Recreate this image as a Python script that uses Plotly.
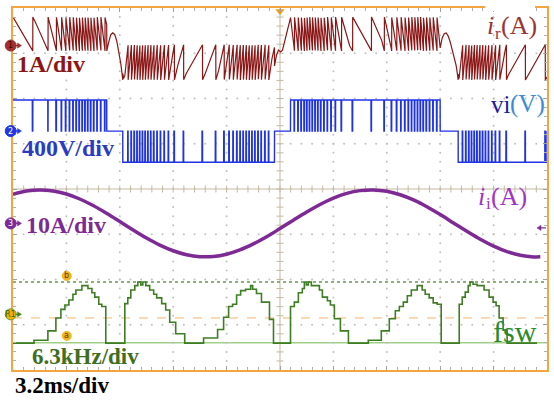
import numpy as np
import plotly.graph_objects as go

# ---------------- scope settings ----------------
MS_PER_DIV = 3.2
T_END = MS_PER_DIV * 10          # 10 horizontal divisions
Y_HALF = 4                       # 8 vertical divisions

# vertical scale (units/div) and ground marker position (div from centre)
IR_SCALE, IR_POS = 1.0, 3.17     # resonant current, A/div
VI_SCALE, VI_POS = 400.0, 1.28   # inverter voltage, V/div
II_SCALE, II_POS = 10.0, -0.76   # grid current, A/div
FSW_SCALE, FSW_POS = 6.3, -2.85  # switching frequency, kHz/div
FSW_REF = 12.6                   # kHz at the R1 marker

# cursor levels (div)
CURSOR_B = -2.055
CURSOR_A = -3.40

# ---------------- data ----------------
# grid current i_i (A), one sample every 0.8 ms
II_T = [0.8 * k for k in range(40)] + [31.6]
II_A = [6.45, 7.16, 7.40, 7.17, 6.49, 5.39, 3.95, 2.25, 0.41, -1.45,
        -3.23, -4.80, -6.05, -6.93, -7.36, -7.32, -6.81, -5.87, -4.54, -2.96,
        -1.15, 0.71, 2.53, 4.19, 5.60, 6.63, 7.24, 7.40, 7.09, 6.33,
        5.18, 3.67, 1.94, 0.09, -1.76, -3.51, -5.03, -6.23, -7.05, -7.40,
        -7.38]

# switching frequency staircase: step start time (ms) and value (kHz)
FSW_T = [0.00, 1.26, 2.09, 2.57, 2.87, 3.11, 3.35, 3.59, 3.77, 4.13,
         4.49, 4.73, 4.90, 5.14, 5.32, 5.56, 6.70, 6.88, 7.06, 7.30,
         7.48, 7.66, 7.78, 7.96, 8.19, 8.43, 8.61, 8.91, 9.15, 9.39,
         9.75, 10.29, 11.42, 12.26, 12.62, 12.92, 13.16, 13.40, 13.64, 13.94,
         14.24, 14.36, 14.59, 14.89, 15.37, 15.61, 16.63, 16.86, 17.10, 17.34,
         17.46, 17.58, 17.70, 17.88, 18.36, 18.54, 18.84, 19.02, 19.26, 19.62,
         20.10, 21.29, 22.07, 22.55, 22.91, 23.15, 23.39, 23.63, 23.87, 24.22,
         24.52, 24.70, 24.94, 25.18, 25.42, 25.66, 26.74, 26.92, 27.10, 27.28,
         27.39, 27.57, 27.81, 28.23, 28.53, 28.77, 28.95, 29.13, 29.37, 29.61,
         31.40]
FSW_KHZ = [9.1, 9.5, 10.8, 12.6, 13.8, 14.4, 15.1, 15.9, 16.5, 17.1,
           16.7, 16.1, 15.5, 14.5, 14.2, 9.1, 14.6, 15.4, 16.5, 17.1,
           17.6, 17.2, 17.6, 17.1, 16.5, 15.9, 15.4, 14.6, 13.7, 12.0,
           10.4, 9.1, 9.8, 11.0, 12.7, 14.2, 14.5, 15.8, 16.4, 16.6,
           17.1, 16.6, 16.0, 14.8, 12.4, 9.1, 14.2, 14.8, 16.1, 16.7,
           17.6, 17.2, 17.6, 17.1, 16.5, 15.5, 15.0, 14.4, 12.5, 10.8,
           9.1, 9.5, 10.8, 12.5, 13.6, 14.2, 14.8, 15.7, 16.5, 17.1,
           16.5, 15.9, 15.4, 14.7, 14.5, 9.1, 14.5, 15.5, 16.2, 17.1,
           17.6, 17.3, 17.1, 16.5, 15.5, 14.8, 14.3, 12.6, 10.9, 9.1,
           9.1]

# half cycles with active switching: start (ms), end (ms), polarity
HALF_CYCLES = [(0.00, 5.62, +1), (6.58, 15.67, -1),
               (16.63, 25.60, +1), (26.68, 32.00, -1)]

# resonant current ripple band (A) for each polarity
POS_TOP, POS_BOT = 0.63, -0.12
NEG_TOP, NEG_BOT = 0.02, -0.76

# i_r around the current zero crossings (no switching): time (ms), A
HUMP_T = [5.62, 5.74, 5.86, 5.98, 6.10, 6.22, 6.34, 6.46, 6.58,
          15.67, 15.79, 15.91, 16.03, 16.15, 16.27, 16.39, 16.51, 16.63,
          25.60, 25.72, 25.84, 25.96, 26.08, 26.20, 26.32, 26.44, 26.56, 26.68]
HUMP_A = [-0.12, 0.08, 0.24, 0.28, 0.24, 0.10, -0.14, -0.40, -0.62,
          -0.45, -0.21, -0.10, -0.14, -0.10, 0.08, 0.30, 0.48, 0.59,
          -0.05, 0.17, 0.26, 0.28, 0.21, 0.08, -0.10, -0.27, -0.45, -0.63]

VDC = 275.0            # inverter output level (V)
RATE_MIN = 0.84        # displayed ripple periods per ms at the lowest fsw
RATE_GAIN = 0.64       # extra periods per ms for each kHz of fsw
PULSE_MS = 0.03        # width of the zero-voltage notches
DT = 0.004

IR_COLOR = "#8B1616"
VI_COLOR = "#1F33E6"
II_COLOR = "#7E2A95"
FSW_COLOR = "#3E7D22"
FRAME = "#F2A541"


def step_value(t, t_steps, vals):
    idx = np.searchsorted(np.asarray(t_steps), t, side="right") - 1
    return np.asarray(vals)[np.clip(idx, 0, len(vals) - 1)]


# ---------------- ripple waveforms from the switching frequency ----------------
t = np.arange(0.0, T_END + 1e-9, DT)
f_t = step_value(t, FSW_T, FSW_KHZ)
rate = RATE_MIN + RATE_GAIN * (f_t - min(FSW_KHZ))
ir = np.full_like(t, np.nan)
vi = np.zeros_like(t)
for t0, t1, sign in HALF_CYCLES:
    m = (t >= t0) & (t < t1)
    ph = np.cumsum(rate[m]) * DT
    frac = ph % 1.0
    notch = (1.0 - frac) / rate[m] < PULSE_MS
    if sign > 0:
        ir[m] = POS_TOP - frac * (POS_TOP - POS_BOT)
        vi[m] = np.where(notch, 0.0, VDC)
    else:
        ir[m] = NEG_BOT + frac * (NEG_TOP - NEG_BOT)
        vi[m] = np.where(notch, 0.0, -VDC)

keep = ~np.isnan(ir)
ir_t = np.concatenate([t[keep], HUMP_T])
ir_v = np.concatenate([ir[keep], HUMP_A])
order = np.argsort(ir_t, kind="stable")
ir_t, ir_v = ir_t[order], ir_v[order]

fig = go.Figure()

# ---------------- graticule ----------------
gx, gy = [], []
for k in range(1, 10):
    if k == 5:
        continue
    for j in range(1, 40):
        gx.append(k * MS_PER_DIV)
        gy.append(-Y_HALF + j * 0.2)
for r in range(-3, 4):
    if r == 0:
        continue
    for j in range(1, 50):
        gx.append(j * MS_PER_DIV / 5)
        gy.append(r)
fig.add_trace(go.Scatter(x=gx, y=gy, mode="markers", hoverinfo="skip",
                         marker=dict(size=2, color="#c0c0c0")))

AXIS_C = "#c4b9a0"
fig.add_shape(type="line", x0=0, x1=T_END, y0=0, y1=0, layer="below",
              line=dict(color=AXIS_C, width=1))
fig.add_shape(type="line", x0=T_END / 2, x1=T_END / 2, y0=-Y_HALF, y1=Y_HALF,
              layer="below", line=dict(color=AXIS_C, width=1))
tx = [j * MS_PER_DIV / 5 for j in range(1, 50)]
fig.add_trace(go.Scatter(x=tx, y=[0] * len(tx), mode="markers", hoverinfo="skip",
                         marker=dict(symbol="line-ns", size=5,
                                     line=dict(color=AXIS_C, width=1))))
ty = [-Y_HALF + j * 0.2 for j in range(1, 40)]
fig.add_trace(go.Scatter(x=[T_END / 2] * len(ty), y=ty, mode="markers",
                         hoverinfo="skip",
                         marker=dict(symbol="line-ew", size=5,
                                     line=dict(color=AXIS_C, width=1))))

# cursors and R1 reference
fig.add_shape(type="line", x0=0, x1=T_END, y0=CURSOR_B, y1=CURSOR_B, layer="below",
              line=dict(color="#8db07a", width=2, dash="dot"))
fig.add_shape(type="line", x0=0, x1=T_END, y0=CURSOR_A, y1=CURSOR_A, layer="below",
              line=dict(color="#9fd08a", width=1.5))
fig.add_shape(type="line", x0=0, x1=T_END, y0=FSW_POS, y1=FSW_POS, layer="below",
              line=dict(color="#f7b36a", width=1, dash="dash"))

# ---------------- traces ----------------
fsw_y = [FSW_POS + (f - FSW_REF) / FSW_SCALE for f in FSW_KHZ]
fig.add_trace(go.Scatter(x=FSW_T, y=fsw_y, mode="lines", line_shape="hv",
                         line=dict(color=FSW_COLOR, width=1.6)))

ii_y = [II_POS + a / II_SCALE for a in II_A]
fig.add_trace(go.Scatter(x=II_T, y=ii_y, mode="lines", line_shape="spline",
                         line=dict(color=II_COLOR, width=3.5)))

fig.add_trace(go.Scatter(x=t, y=VI_POS + vi / VI_SCALE, mode="lines",
                         line=dict(color=VI_COLOR, width=1.4)))

fig.add_trace(go.Scatter(x=ir_t, y=IR_POS + ir_v / IR_SCALE, mode="lines",
                         line=dict(color=IR_COLOR, width=1.2)))

# trigger position
fig.add_trace(go.Scatter(x=[T_END / 2], y=[Y_HALF - 0.07], mode="markers",
                         cliponaxis=False, hoverinfo="skip",
                         marker=dict(symbol="triangle-down", size=8, color="#f29a1d")))

# ---------------- text and margin markers (pixel placement) ----------------
SERIF = "Liberation Serif"
W, H, L, B = 536, 362, 13, 370


def px(x, y):
    return (x - L) / W, (B - y) / H


def div_to_py(d):
    return 189 - d * (H / 8)


def arrow(x_tail, x_head, y, color):
    """Small horizontal arrow drawn in paper coordinates."""
    xa, ya = px(x_tail, y)
    xb, _ = px(x_head - 3 * np.sign(x_head - x_tail), y)
    fig.add_shape(type="line", xref="paper", yref="paper", x0=xa, y0=ya,
                  x1=xb, y1=ya, line=dict(color=color, width=1.2))
    hx, hy = px(x_head, y)
    bx, _ = px(x_head - 4 * np.sign(x_head - x_tail), y)
    _, up = px(0, y - 2.6)
    _, dn = px(0, y + 2.6)
    fig.add_shape(type="path", xref="paper", yref="paper",
                  path=f"M {hx},{hy} L {bx},{up} L {bx},{dn} Z",
                  fillcolor=color, line=dict(color=color, width=0.5))


def badge(cx_px, cy_px, r, txt, fill, edge, tc, size):
    """Round marker with a short tag drawn on it."""
    x0, y0 = px(cx_px - r, cy_px + r)
    x1, y1 = px(cx_px + r, cy_px - r)
    fig.add_shape(type="circle", xref="paper", yref="paper", x0=x0, y0=y0,
                  x1=x1, y1=y1, fillcolor=fill, line=dict(color=edge, width=1))
    cx, cy = px(cx_px, cy_px)
    fig.add_annotation(x=cx, y=cy, xref="paper", yref="paper", text=txt,
                       showarrow=False, xanchor="center", yanchor="middle",
                       font=dict(size=size, color=tc, family="DejaVu Sans"))


# channel ground markers in the left margin
marks = [(IR_POS, "1", "#a03030", "#a03030", "#3a0000", "#9b2a2a"),
         (VI_POS, "2", "#2138e0", "#2138e0", "white", "#2138e0"),
         (II_POS, "3", "#7e2a95", "#7e2a95", "white", "#7e2a95"),
         (FSW_POS + 0.08, "R1", "#f2b400", "#6a9a30", "#2f6b12", "#3e8a22")]
for d, txt, fill, edge, tc, arrow_c in marks:
    cy = div_to_py(d)
    badge(10.7, cy, 5.5, txt, fill, edge, tc, 8)
    arrow(15.5, 21.5, cy, arrow_c)

# cursor tags
badge(67, div_to_py(CURSOR_B) - 6, 4.5, "b", "#f3b41c", "#f3b41c", "#5a3a00", 8)
badge(67, div_to_py(CURSOR_A) - 7, 4.5, "a", "#f3b41c", "#f3b41c", "#5a3a00", 8)

# ch3 offset indicator on the right edge
arrow(548, 539, div_to_py(II_POS) + 4.5, II_COLOR)

# white patch behind the i_r name, breaking the top frame
gx0, gy0 = px(487, 11)
gx1, gy1 = px(537, 4)
fig.add_shape(type="rect", xref="paper", yref="paper", x0=gx0, y0=gy0,
              x1=gx1, y1=gy1, fillcolor="white", line=dict(width=0),
              layer="above")


def label(x, y, text, color, size, anchor="left"):
    xx, yy = px(x, y)
    fig.add_annotation(x=xx, y=yy, xref="paper", yref="paper", text=text,
                       showarrow=False, xanchor=anchor, yanchor="middle",
                       font=dict(family=SERIF, size=size, color=color))


label(15, 64, "<b>1A/div</b>", IR_COLOR, 24)
label(20, 148, "<b>400V/div</b>", "#2c3cc0", 24)
label(24, 225, "<b>10A/div</b>", II_COLOR, 24)
label(30, 356, "<b>6.3kHz/div</b>", "#3f6e1e", 23)
label(13, 386, "<b>3.2ms/div</b>", "black", 23)

# trace names: italic symbol, smaller lowered subscript, unit
IR_NAME_C = "#9a3535"
label(487, 26, "<i>i</i>", IR_NAME_C, 26)
label(495, 33, "r", IR_NAME_C, 17)
label(501, 26, "(A)", IR_NAME_C, 26)

label(491, 104, "vi", "#1c1c9c", 25)
label(510, 104, "(V)", "#3a8ad8", 25)

II_NAME_C = "#a232c4"
label(478, 196, "<i>i</i>", II_NAME_C, 26)
label(486, 203, "i", II_NAME_C, 17)
label(491, 196, "(A)", II_NAME_C, 26)

label(517, 331, "fsw", "#2a8a2a", 30, anchor="center")

fig.update_layout(
    width=554, height=403, margin=dict(l=13, r=5, t=8, b=33),
    paper_bgcolor="white", plot_bgcolor="white", showlegend=False,
    xaxis=dict(range=[0, T_END], showgrid=False, zeroline=False,
               showline=True, linecolor=FRAME, linewidth=2, mirror="allticks",
               ticks="inside", tick0=0, dtick=MS_PER_DIV, ticklen=4,
               tickcolor="#a0a0a0", showticklabels=False,
               minor=dict(ticks="inside", dtick=MS_PER_DIV / 5, ticklen=3,
                          tickcolor="#b0b0b0")),
    yaxis=dict(range=[-Y_HALF, Y_HALF], showgrid=False, zeroline=False,
               showline=True, linecolor=FRAME, linewidth=2, mirror="allticks",
               ticks="inside", tick0=0, dtick=1, ticklen=4,
               tickcolor="#a0a0a0", showticklabels=False,
               minor=dict(ticks="inside", dtick=0.2, ticklen=3,
                          tickcolor="#b0b0b0")),
)

fig.write_html("out.html")
